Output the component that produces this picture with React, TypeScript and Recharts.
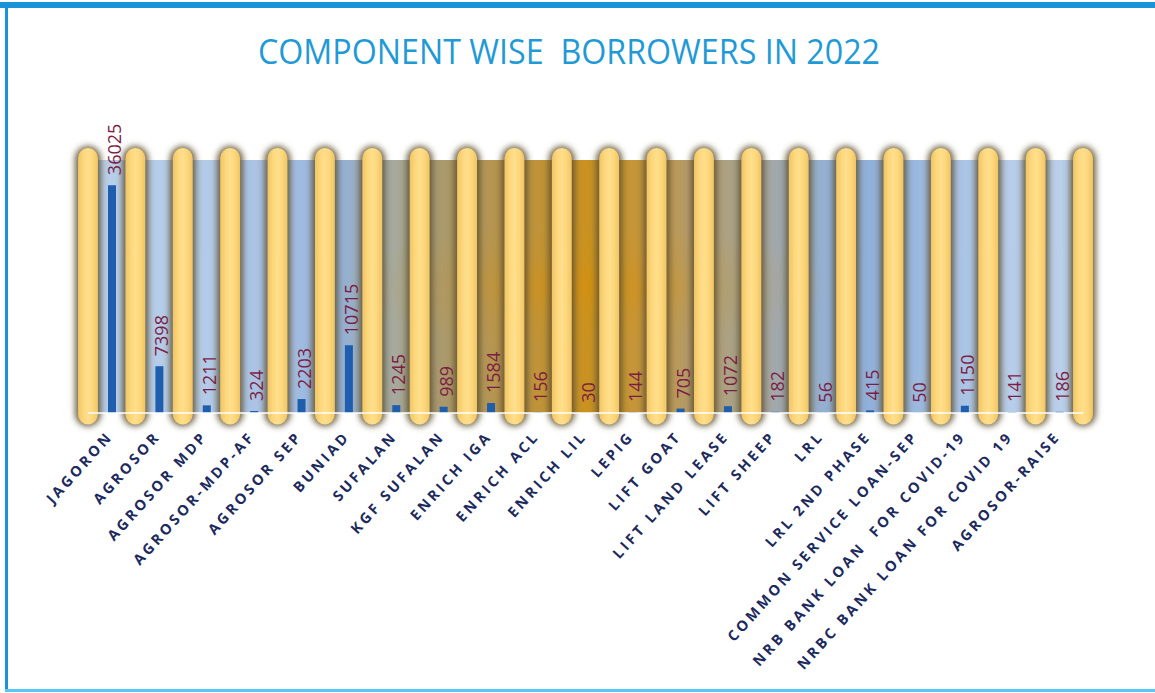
import { BarChart, Bar, XAxis, YAxis, ReferenceArea, LabelList } from 'recharts';

const title = 'COMPONENT WISE  BORROWERS IN 2022';

const categories = [
  'JAGORON', 'AGROSOR', 'AGROSOR MDP', 'AGROSOR-MDP-AF', 'AGROSOR SEP', 'BUNIAD',
  'SUFALAN', 'KGF SUFALAN', 'ENRICH IGA', 'ENRICH ACL', 'ENRICH LIL', 'LEPIG',
  'LIFT GOAT', 'LIFT LAND LEASE', 'LIFT SHEEP', 'LRL', 'LRL 2ND PHASE',
  'COMMON SERVICE LOAN-SEP', 'NRB BANK LOAN  FOR COVID-19', 'NRBC BANK LOAN FOR COVID 19',
  'AGROSOR-RAISE',
];

const borrowers = [
  36025, 7398, 1211, 324, 2203, 10715, 1245, 989, 1584, 156, 30, 144,
  705, 1072, 182, 56, 415, 50, 1150, 141, 186,
];

const yDomain = [0, 40000];

const data = categories.map((name, i) => ({ name, value: borrowers[i] }));

const FONT = "'Open Sans', 'DejaVu Sans', sans-serif";

function PillarShape({ cx, top, bottom, w }: { cx: number; top: number; bottom: number; w: number }) {
  const h = bottom - top;
  const r = w / 2;
  return (
    <g>
      <rect
        x={cx - r - 3}
        y={top - 2}
        width={w + 6}
        height={h + 4}
        rx={r + 3}
        fill="#5e5232"
        fillOpacity={0.9}
        filter="url(#pillarBlur)"
      />
      <rect x={cx - r} y={top} width={w} height={h} rx={r} fill="url(#pillarFill)" />
    </g>
  );
}

// a pillar on the left edge of each category band (and the right edge of the last one)
function BandPillars(props: any) {
  const { x, y, width, height, last } = props;
  const w = width * 0.42;
  return (
    <g>
      <PillarShape cx={x} top={y} bottom={y + height} w={w} />
      {last && <PillarShape cx={x + width} top={y} bottom={y + height} w={w} />}
    </g>
  );
}

function ValueLabel(props: any) {
  const { x, y, width, value } = props;
  const lx = x + width / 2 + 9;
  const ly = y - 10;
  return (
    <text
      x={lx}
      y={ly}
      transform={`rotate(-90 ${lx} ${ly})`}
      fill="#7c1d44"
      fontSize={18}
      fontFamily={FONT}
    >
      {value}
    </text>
  );
}

function CategoryTick(props: any) {
  const { x, y, payload } = props;
  const tx = x + 2;
  const ty = y + 24;
  return (
    <text
      x={tx}
      y={ty}
      transform={`rotate(-48 ${tx} ${ty})`}
      textAnchor="end"
      fill="#1c2a5e"
      fontSize={14.5}
      fontWeight={700}
      letterSpacing={3}
      fontFamily={FONT}
      style={{ whiteSpace: 'pre' }}
    >
      {payload.value}
    </text>
  );
}

export default function App() {
  return (
    <div style={{ position: 'absolute', left: 0, top: 0, width: 1155, height: 693, background: '#fff' }}>
      <BarChart
        width={1155}
        height={693}
        data={data}
        margin={{ top: 160, right: 72, bottom: 250, left: 88 }}
        barSize={8}
      >
        <defs>
          <linearGradient id="bgGrad" x1="0" y1="0" x2="1" y2="0">
            <stop offset="0" stopColor="#b9cfea" />
            <stop offset="0.12" stopColor="#b3cbe8" />
            <stop offset="0.2" stopColor="#a5bfe3" />
            <stop offset="0.25" stopColor="#92b1da" />
            <stop offset="0.3" stopColor="#a5aca5" />
            <stop offset="0.35" stopColor="#a99a70" />
            <stop offset="0.42" stopColor="#b8944a" />
            <stop offset="0.5" stopColor="#c99220" />
            <stop offset="0.56" stopColor="#c4963e" />
            <stop offset="0.61" stopColor="#b39c6e" />
            <stop offset="0.66" stopColor="#a8a48e" />
            <stop offset="0.7" stopColor="#a0a9b2" />
            <stop offset="0.75" stopColor="#91b1d9" />
            <stop offset="0.8" stopColor="#90b0da" />
            <stop offset="0.86" stopColor="#a4c0e3" />
            <stop offset="0.92" stopColor="#b6cce9" />
            <stop offset="1" stopColor="#bad0ea" />
          </linearGradient>
          <radialGradient id="bgGlow" cx="0.5" cy="0.5" r="0.5">
            <stop offset="0" stopColor="#dc8e00" stopOpacity={0.45} />
            <stop offset="0.25" stopColor="#d89000" stopOpacity={0.12} />
            <stop offset="0.5" stopColor="#d89000" stopOpacity={0} />
          </radialGradient>
          <linearGradient id="pillarFill" x1="0" y1="0" x2="1" y2="0">
            <stop offset="0" stopColor="#efc466" />
            <stop offset="0.25" stopColor="#fcd679" />
            <stop offset="0.5" stopColor="#ffdf8d" />
            <stop offset="0.75" stopColor="#fcd679" />
            <stop offset="1" stopColor="#efc466" />
          </linearGradient>
          <filter id="pillarBlur" x="-60%" y="-10%" width="220%" height="120%">
            <feGaussianBlur stdDeviation="3" />
          </filter>
        </defs>
        <XAxis
          dataKey="name"
          interval={0}
          tickSize={0}
          tickMargin={0}
          tickLine={false}
          axisLine={{ stroke: '#ffffff', strokeWidth: 1.5 }}
          tick={<CategoryTick />}
          height={30}
        />
        <YAxis domain={yDomain} allowDataOverflow hide />
        <ReferenceArea
          y1={yDomain[0]}
          y2={yDomain[1]}
          fill="url(#bgGrad)"
          fillOpacity={1}
          ifOverflow="visible"
        />
        <ReferenceArea
          y1={yDomain[0]}
          y2={yDomain[1]}
          fill="url(#bgGlow)"
          fillOpacity={1}
          ifOverflow="visible"
        />
        {categories.map((c, i) => (
          <ReferenceArea
            key={c}
            x1={c}
            x2={c}
            y1={-1800}
            y2={41900}
            ifOverflow="visible"
            shape={<BandPillars last={i === categories.length - 1} />}
          />
        ))}
        <Bar dataKey="value" fill="#1e5eac" isAnimationActive={false}>
          <LabelList dataKey="value" content={<ValueLabel />} />
        </Bar>
      </BarChart>
      <svg
        width={1155}
        height={693}
        style={{ position: 'absolute', left: 0, top: 0, pointerEvents: 'none' }}
      >
        <rect x={0} y={2} width={1155} height={6} fill="#1a94d9" />
        <rect x={5} y={2} width={3} height={690} fill="#1a94d9" />
        <rect x={5} y={689} width={1150} height={3} fill="#5ac6f6" />
        <text
          x={258}
          y={64}
          textLength={622}
          lengthAdjust="spacingAndGlyphs"
          fill="#1f9ad6"
          fontSize={34}
          fontFamily={FONT}
          style={{ whiteSpace: 'pre' }}
        >
          {title}
        </text>
      </svg>
    </div>
  );
}
